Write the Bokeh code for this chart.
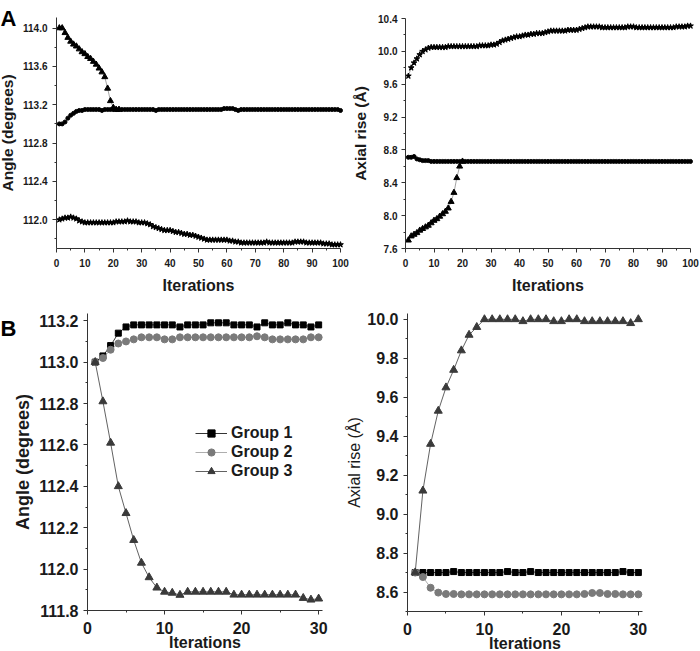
from bokeh.plotting import figure
from bokeh.layouts import column, row
from bokeh.models import FixedTicker, Range1d, Label, PrintfTickFormatter
from bokeh.embed import file_html
from bokeh.resources import INLINE

FONT = "Liberation Sans"

# ---------------- data ----------------
iters100 = list(range(1, 101))
iters22 = list(range(1, 23))
iters20 = list(range(1, 21))
iters30 = list(range(1, 31))

# Panel A, angle
angA_tri = [114.00, 114.00, 113.95, 113.90, 113.86, 113.83, 113.81, 113.78, 113.75, 113.73,
            113.70, 113.68, 113.65, 113.62, 113.58, 113.54, 113.49, 113.37, 113.24, 113.17,
            113.15, 113.15]
angA_mid = [113.00, 113.00, 113.02, 113.06, 113.09, 113.11, 113.13, 113.14, 113.14, 113.15,
            113.15, 113.15, 113.15, 113.15, 113.15, 113.14, 113.15, 113.15, 113.15, 113.15,
            113.15, 113.15, 113.15, 113.15, 113.15, 113.15, 113.15, 113.15, 113.15, 113.15,
            113.15, 113.15, 113.15, 113.15, 113.14, 113.15, 113.15, 113.15, 113.15, 113.15,
            113.15, 113.15, 113.15, 113.15, 113.15, 113.15, 113.15, 113.15, 113.15, 113.15,
            113.15, 113.15, 113.15, 113.15, 113.15, 113.15, 113.15, 113.15, 113.16, 113.16,
            113.16, 113.16, 113.15, 113.14, 113.15, 113.15, 113.15, 113.15, 113.15, 113.15,
            113.15, 113.15, 113.15, 113.15, 113.15, 113.15, 113.15, 113.15, 113.15, 113.15,
            113.15, 113.15, 113.15, 113.15, 113.15, 113.15, 113.15, 113.15, 113.15, 113.15,
            113.15, 113.15, 113.15, 113.15, 113.15, 113.15, 113.15, 113.15, 113.15, 113.14]
angA_low = [112.00, 112.01, 112.02, 112.02, 112.03, 112.02, 112.01, 111.99, 111.98, 111.97,
            111.97, 111.97, 111.97, 111.97, 111.97, 111.97, 111.97, 111.97, 111.97, 111.97,
            111.98, 111.98, 111.98, 111.98, 111.99, 111.98, 111.98, 111.98, 111.97, 111.97,
            111.97, 111.96, 111.95, 111.93, 111.92, 111.91, 111.90, 111.89, 111.89, 111.89,
            111.88, 111.87, 111.87, 111.86, 111.85, 111.85, 111.84, 111.84, 111.83, 111.82,
            111.81, 111.80, 111.79, 111.79, 111.79, 111.79, 111.79, 111.79, 111.79, 111.79,
            111.78, 111.78, 111.77, 111.77, 111.76, 111.76, 111.76, 111.76, 111.76, 111.76,
            111.76, 111.76, 111.76, 111.77, 111.76, 111.76, 111.76, 111.76, 111.76, 111.76,
            111.76, 111.76, 111.76, 111.77, 111.77, 111.77, 111.77, 111.76, 111.76, 111.76,
            111.76, 111.76, 111.76, 111.75, 111.75, 111.75, 111.74, 111.74, 111.74, 111.74]

# Panel A, axial rise
riseA_top = [9.70, 9.80, 9.86, 9.91, 9.96, 10.00, 10.02, 10.04, 10.05, 10.05,
             10.05, 10.05, 10.05, 10.05, 10.06, 10.06, 10.06, 10.06, 10.06, 10.06,
             10.06, 10.06, 10.06, 10.06, 10.06, 10.07, 10.07, 10.07, 10.07, 10.08,
             10.08, 10.09, 10.11, 10.13, 10.14, 10.15, 10.16, 10.17, 10.18, 10.18,
             10.19, 10.20, 10.20, 10.21, 10.21, 10.22, 10.22, 10.22, 10.23, 10.24,
             10.25, 10.25, 10.25, 10.25, 10.25, 10.25, 10.26, 10.26, 10.26, 10.26,
             10.27, 10.28, 10.29, 10.30, 10.30, 10.30, 10.30, 10.30, 10.29, 10.29,
             10.29, 10.29, 10.29, 10.29, 10.29, 10.29, 10.29, 10.30, 10.30, 10.30,
             10.29, 10.29, 10.29, 10.29, 10.29, 10.29, 10.29, 10.29, 10.29, 10.29,
             10.29, 10.29, 10.29, 10.29, 10.30, 10.30, 10.30, 10.30, 10.31, 10.31]
riseA_mid = [8.71, 8.71, 8.72, 8.69, 8.68, 8.67, 8.67, 8.67, 8.66, 8.66,
             8.66, 8.66, 8.66, 8.66, 8.66, 8.66, 8.66, 8.66, 8.66, 8.66,
             8.66, 8.66, 8.66, 8.66, 8.66, 8.66, 8.66, 8.66, 8.66, 8.66,
             8.66, 8.66, 8.66, 8.66, 8.66, 8.66, 8.66, 8.66, 8.66, 8.66,
             8.66, 8.66, 8.66, 8.66, 8.66, 8.66, 8.66, 8.66, 8.66, 8.66,
             8.66, 8.66, 8.66, 8.66, 8.66, 8.66, 8.66, 8.66, 8.66, 8.66,
             8.66, 8.66, 8.66, 8.66, 8.66, 8.66, 8.66, 8.66, 8.66, 8.66,
             8.66, 8.66, 8.66, 8.66, 8.66, 8.66, 8.66, 8.66, 8.66, 8.66,
             8.66, 8.66, 8.66, 8.66, 8.66, 8.66, 8.66, 8.66, 8.66, 8.66,
             8.66, 8.66, 8.66, 8.66, 8.66, 8.66, 8.66, 8.66, 8.66, 8.66]
riseA_tri = [7.70, 7.75, 7.77, 7.79, 7.82, 7.84, 7.86, 7.88, 7.91, 7.94,
             7.96, 7.99, 8.02, 8.05, 8.09, 8.17, 8.28, 8.46, 8.60, 8.66]

# Panel B, angle
angB_g1 = [113.00, 113.03, 113.08, 113.14, 113.17, 113.18, 113.18, 113.18, 113.18, 113.18,
           113.18, 113.17, 113.18, 113.18, 113.18, 113.19, 113.19, 113.19, 113.18, 113.18,
           113.18, 113.17, 113.19, 113.18, 113.18, 113.19, 113.18, 113.18, 113.17, 113.18]
angB_g2 = [113.00, 113.02, 113.06, 113.09, 113.10, 113.11, 113.12, 113.12, 113.12, 113.11,
           113.11, 113.12, 113.12, 113.12, 113.12, 113.12, 113.12, 113.12, 113.12, 113.12,
           113.12, 113.125, 113.12, 113.11, 113.11, 113.11, 113.11, 113.11, 113.12, 113.12]
angB_g3 = [113.00, 112.81, 112.61, 112.40, 112.27, 112.14, 112.03, 111.96, 111.91, 111.89,
           111.885, 111.875, 111.89, 111.89, 111.89, 111.89, 111.89, 111.89, 111.876, 111.876,
           111.876, 111.876, 111.876, 111.876, 111.876, 111.876, 111.876, 111.86, 111.852, 111.857]

# Panel B, axial rise
riseB_g1 = [8.70, 8.70, 8.70, 8.70, 8.70, 8.705, 8.70, 8.70, 8.70, 8.70,
            8.70, 8.70, 8.705, 8.70, 8.70, 8.705, 8.70, 8.70, 8.70, 8.70,
            8.70, 8.70, 8.70, 8.70, 8.70, 8.70, 8.70, 8.705, 8.70, 8.70]
riseB_g2 = [8.70, 8.677, 8.622, 8.597, 8.59, 8.59, 8.588, 8.588, 8.588, 8.588,
            8.588, 8.588, 8.588, 8.588, 8.588, 8.588, 8.588, 8.588, 8.588, 8.588,
            8.588, 8.588, 8.59, 8.595, 8.595, 8.59, 8.59, 8.588, 8.588, 8.588]
riseB_g3 = [8.70, 9.12, 9.36, 9.53, 9.65, 9.74, 9.84, 9.92, 9.96, 10.00,
            10.00, 10.00, 10.00, 10.00, 9.99, 10.00, 10.00, 10.00, 9.99, 9.99,
            10.00, 10.00, 9.99, 9.99, 9.99, 9.99, 9.99, 9.99, 9.98, 10.00]

angA_ticks = [112.0, 112.4, 112.8, 113.2, 113.6, 114.0]
riseA_ticks = [7.6, 8.0, 8.4, 8.8, 9.2, 9.6, 10.0, 10.4]
angB_ticks = [111.8, 112.0, 112.2, 112.4, 112.6, 112.8, 113.0, 113.2]
riseB_ticks = [8.6, 8.8, 9.0, 9.2, 9.4, 9.6, 9.8, 10.0]
itA_ticks = [0, 10, 20, 30, 40, 50, 60, 70, 80, 90, 100]
itB_ticks = [0, 10, 20, 30]


def mids(t, lo_extra=None):
    m = [round((a + b) / 2, 4) for a, b in zip(t[:-1], t[1:])]
    if lo_extra is not None:
        m = [lo_extra] + m
    return m


class Panel:
    """Figure whose frame fills the canvas; axes sit at fixed pixel places."""

    def __init__(self, w, h, xlim, ylim, ax_left, ax_right, ax_top, ax_bottom):
        self.w, self.h = w, h
        x0, x1 = xlim
        y0, y1 = ylim
        self.sx = (ax_right - ax_left) / (x1 - x0)
        self.xs = x0 - ax_left / self.sx
        xe = x1 + (w - ax_right) / self.sx
        pb = h - ax_bottom
        pt = h - ax_top
        self.sy = (pt - pb) / (y1 - y0)
        self.ys = y0 - pb / self.sy
        ye = y1 + (h - pt) / self.sy
        p = figure(width=w, height=h, x_range=Range1d(self.xs, xe), y_range=Range1d(self.ys, ye),
                   output_backend="svg", toolbar_location=None,
                   min_border_left=0, min_border_right=0, min_border_top=0, min_border_bottom=0)
        p.grid.visible = False
        p.outline_line_color = None
        p.background_fill_color = "white"
        p.border_fill_color = "white"
        p.xaxis.fixed_location = y0
        p.xaxis.bounds = (x0, x1)
        p.yaxis.fixed_location = x0
        p.yaxis.bounds = (y0, y1)
        for ax in (p.xaxis[0], p.yaxis[0]):
            ax.axis_line_color = "#333333"
            ax.axis_line_width = 1
            ax.major_tick_line_color = "#333333"
            ax.minor_tick_line_color = "#333333"
            ax.major_tick_in = 0
            ax.major_tick_out = 4
            ax.minor_tick_in = 0
            ax.minor_tick_out = 2
            ax.major_label_text_font = FONT
            ax.major_label_text_font_style = "bold"
            ax.major_label_text_color = "#1a1a1a"
            ax.axis_label_text_font = FONT
            ax.axis_label_text_font_style = "bold"
            ax.axis_label_text_color = "#1a1a1a"
        p.yaxis.formatter = PrintfTickFormatter(format="%.1f")
        self.p = p

    def letter(self, px, py_top, txt):
        # px: pixels from canvas left, py_top: baseline pixels from canvas top
        x = self.xs + px / self.sx
        y = self.ys + (self.h - py_top) / self.sy
        self.p.add_layout(Label(x=x, y=y, text=txt, text_font=FONT, text_font_style="bold",
                                text_font_size="22px", text_color="black",
                                text_baseline="alphabetic", text_align="left"))


# ---------------- A left ----------------
P1 = Panel(350, 300, (0, 100), (111.7, 114.11), 56, 340, 17, 248)
p1 = P1.p
p1.yaxis.ticker = FixedTicker(ticks=angA_ticks, minor_ticks=mids(angA_ticks, 111.8))
p1.xaxis.ticker = FixedTicker(ticks=itA_ticks, minor_ticks=mids(itA_ticks))
p1.yaxis.axis_label = "Angle (degrees)"
p1.xaxis.axis_label = "Iterations"
p1.yaxis.major_label_text_font_size = "10px"
p1.xaxis.major_label_text_font_size = "10px"
p1.yaxis.axis_label_text_font_size = "15.5px"
p1.xaxis.axis_label_text_font_size = "16px"
p1.yaxis.major_label_standoff = 5
p1.xaxis.major_label_standoff = 6
p1.yaxis.axis_label_standoff = 4
p1.xaxis.axis_label_standoff = 7
p1.line(iters100, angA_low, line_color="#666666", line_width=0.6)
p1.scatter(iters100, angA_low, marker="star", size=6, color="black")
p1.line(iters100, angA_mid, line_color="#666666", line_width=0.6)
p1.scatter(iters100, angA_mid, marker="circle", size=4, color="black")
p1.line(iters22, angA_tri, line_color="#666666", line_width=0.6)
p1.scatter(iters22, angA_tri, marker="triangle", size=6, color="black")
P1.letter(0, 18, "A")

# ---------------- A right ----------------
P2 = Panel(349, 300, (0, 100), (7.6, 10.4), 55, 340, 18, 248)
p2 = P2.p
p2.yaxis.ticker = FixedTicker(ticks=riseA_ticks, minor_ticks=mids(riseA_ticks))
p2.xaxis.ticker = FixedTicker(ticks=itA_ticks, minor_ticks=mids(itA_ticks))
p2.yaxis.axis_label = "Axial rise (Å)"
p2.xaxis.axis_label = "Iterations"
p2.yaxis.major_label_text_font_size = "10px"
p2.xaxis.major_label_text_font_size = "10px"
p2.yaxis.axis_label_text_font_size = "15.5px"
p2.xaxis.axis_label_text_font_size = "16px"
p2.yaxis.major_label_standoff = 4
p2.xaxis.major_label_standoff = 6
p2.yaxis.axis_label_standoff = 6
p2.xaxis.axis_label_standoff = 7
p2.line(iters100, riseA_top, line_color="#666666", line_width=0.6)
p2.scatter(iters100, riseA_top, marker="star", size=6, color="black")
p2.line(iters100, riseA_mid, line_color="#666666", line_width=0.6)
p2.scatter(iters100, riseA_mid, marker="circle", size=4, color="black")
p2.line(iters20, riseA_tri, line_color="#666666", line_width=0.6)
p2.scatter(iters20, riseA_tri, marker="triangle", size=6, color="black")

# ---------------- B left ----------------
P3 = Panel(340, 350, (0, 30.5), (111.8, 113.235), 87, 322, 13, 310)
p3 = P3.p
p3.yaxis.ticker = FixedTicker(ticks=angB_ticks, minor_ticks=mids(angB_ticks))
p3.xaxis.ticker = FixedTicker(ticks=itB_ticks, minor_ticks=[5, 15, 25])
p3.yaxis.axis_label = "Angle (degrees)"
p3.xaxis.axis_label = "Iterations"
p3.yaxis.major_label_text_font_size = "16px"
p3.xaxis.major_label_text_font_size = "16px"
p3.yaxis.axis_label_text_font_size = "18px"
p3.xaxis.axis_label_text_font_size = "16px"
p3.yaxis.major_label_standoff = 5
p3.xaxis.major_label_standoff = 7
p3.yaxis.axis_label_standoff = 3
p3.xaxis.axis_label_standoff = -3
p3.line(iters30, angB_g1, line_color="black", line_width=0.8, legend_label="Group 1")
p3.scatter(iters30, angB_g1, marker="square", size=6, color="black", legend_label="Group 1")
p3.line(iters30, angB_g2, line_color="#999999", line_width=0.8, legend_label="Group 2")
p3.scatter(iters30, angB_g2, marker="circle", size=7, color="#7a7a7a", legend_label="Group 2")
p3.line(iters30, angB_g3, line_color="#3a3a3a", line_width=0.8, legend_label="Group 3")
p3.scatter(iters30, angB_g3, marker="triangle", size=8, color="#3a3a3a", legend_label="Group 3")
lg = p3.legend[0]
lg.location = (195, 170)
lg.padding = 0
lg.margin = 0
lg.spacing = 1
lg.glyph_width = 32
lg.glyph_height = 18
lg.label_height = 18
lg.label_standoff = 4
lg.border_line_color = None
lg.background_fill_alpha = 0
lg.label_text_font = FONT
lg.label_text_font_style = "bold"
lg.label_text_font_size = "16px"
lg.label_text_color = "#1a1a1a"
P3.letter(0, 28, "B")

# ---------------- B right ----------------
P4 = Panel(359, 350, (0, 30.5), (8.5, 10.03), 67, 301.7, 13, 311)
p4 = P4.p
p4.yaxis.ticker = FixedTicker(ticks=riseB_ticks, minor_ticks=mids(riseB_ticks, 8.5))
p4.xaxis.ticker = FixedTicker(ticks=itB_ticks, minor_ticks=[5, 15, 25])
p4.yaxis.axis_label = "Axial rise (Å)"
p4.xaxis.axis_label = "Iterations"
p4.yaxis.major_label_text_font_size = "16px"
p4.xaxis.major_label_text_font_size = "16px"
p4.yaxis.axis_label_text_font_size = "16px"
p4.yaxis.axis_label_text_font_style = "normal"
p4.xaxis.axis_label_text_font_size = "16px"
p4.yaxis.major_label_standoff = 5
p4.xaxis.major_label_standoff = 7
p4.yaxis.axis_label_standoff = 1
p4.xaxis.axis_label_standoff = -3
p4.line(iters30, riseB_g1, line_color="black", line_width=0.8)
p4.scatter(iters30, riseB_g1, marker="square", size=6, color="black")
p4.line(iters30, riseB_g2, line_color="#999999", line_width=0.8)
p4.scatter(iters30, riseB_g2, marker="circle", size=7, color="#7a7a7a")
p4.line(iters30, riseB_g3, line_color="#3a3a3a", line_width=0.8)
p4.scatter(iters30, riseB_g3, marker="triangle", size=8, color="#3a3a3a")

layout = column(row(p1, p2), row(p3, p4))

open("out.html", "w").write(file_html(layout, INLINE))
